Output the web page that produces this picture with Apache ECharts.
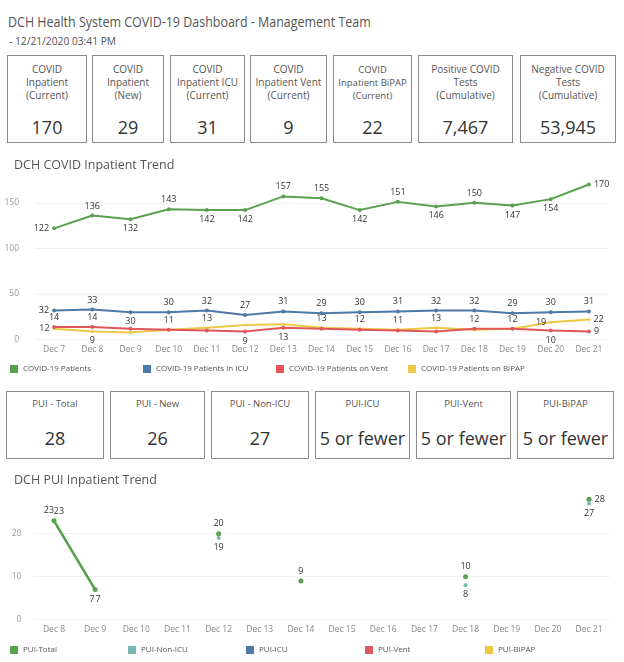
<!DOCTYPE html>
<html>
<head>
<meta charset="utf-8">
<script src="https://cdn.jsdelivr.net/npm/echarts@6/dist/echarts.min.js"></script>
<style>
  html, body { margin:0; padding:0; background:#fff; }
  body { width:624px; height:662px; position:relative; overflow:hidden; font-family:"Open Sans", sans-serif; color:#555; }
  .t { position:absolute; white-space:nowrap; transform-origin:0 50%; }
  .box { position:absolute; border:1px solid #8c8c8c; box-sizing:border-box; background:#fff; }
  .lbl { position:absolute; left:0; right:0; text-align:center; color:#555; }
  .val { position:absolute; left:0; right:0; text-align:center; color:#333; }
  #c1 { position:absolute; left:0; top:150px; width:624px; height:230px; }
  #c2 { position:absolute; left:0; top:460px; width:624px; height:202px; }
</style>
</head>
<body>
<div class="t" id="title" style="left:8px; top:12px; font-size:14.5px; color:#555; transform:scaleX(0.86);">DCH Health System COVID-19 Dashboard - Management Team</div>
<div class="t" id="sub" style="left:9px; top:33px; font-size:11px; color:#555; transform:scaleX(0.93);">- 12/21/2020 03:41 PM</div>
<div id="kpis"></div>
<div id="puis"></div>
<div id="c1"></div>
<div id="c2"></div>
<script>
// ---------- data ----------
const kpiLabels = [
  ["COVID", "Inpatient", "(Current)"],
  ["COVID", "Inpatient", "(New)"],
  ["COVID", "Inpatient ICU", "(Current)"],
  ["COVID", "Inpatient Vent", "(Current)"],
  ["COVID", "Inpatient BiPAP", "(Current)"],
  ["Positive COVID", "Tests", "(Cumulative)"],
  ["Negative COVID", "Tests", "(Cumulative)"]
];
const kpiValues = ["170", "29", "31", "9", "22", "7,467", "53,945"];

const puiLabels = ["PUI - Total", "PUI - New", "PUI - Non-ICU", "PUI-ICU", "PUI-Vent", "PUI-BiPAP"];
const puiValues = ["28", "26", "27", "5 or fewer", "5 or fewer", "5 or fewer"];

const days1 = ["Dec 7","Dec 8","Dec 9","Dec 10","Dec 11","Dec 12","Dec 13","Dec 14","Dec 15","Dec 16","Dec 17","Dec 18","Dec 19","Dec 20","Dec 21"];
const covidPatients = [122,136,132,143,142,142,157,155,142,151,146,150,147,154,170];
const covidICU      = [32,33,30,30,32,27,31,29,30,31,32,32,29,30,31];
const covidVent     = [14,14,12,11,10,9,13,12,11,10,9,12,12,10,9];
const covidBiPAP    = [12,9,8,11,13,16,17,13,12,11,13,11,12,19,22];
const ticks1 = [0, 50, 100, 150];

const days2 = ["Dec 8","Dec 9","Dec 10","Dec 11","Dec 12","Dec 13","Dec 14","Dec 15","Dec 16","Dec 17","Dec 18","Dec 19","Dec 20","Dec 21"];
const puiTotal  = [23,7,null,null,20,null,9,null,null,null,10,null,null,28];
const puiNonICU = [23,7,null,null,19,null,null,null,null,null,8,null,null,27];
const puiICU    = [];
const puiVent   = [];
const puiBiPAP  = [];
const ticks2 = [0, 10, 20];

// ---------- layout (style only) ----------
const kpiX = [[7,87],[92,164],[170,245],[250,327],[333,412],[418,513],[520,616]];
const puiX = [[6,104],[110,205],[211,309],[315,410],[416,511],[517,614]];

const kpiWrap = document.getElementById('kpis');
kpiLabels.forEach((lines, i) => {
  const b = document.createElement('div');
  b.className = 'box';
  b.style.left = kpiX[i][0] + 'px'; b.style.width = (kpiX[i][1] - kpiX[i][0]) + 'px';
  b.style.top = '55px'; b.style.height = '88px';
  const l = document.createElement('div');
  l.className = 'lbl';
  l.style.top = '7px'; l.style.fontSize = (i === 4 ? '9.5px' : '10px'); l.style.lineHeight = '13px';
  l.innerHTML = lines.join('<br>');
  const v = document.createElement('div');
  v.className = 'val';
  v.style.top = '58px'; v.style.fontSize = '18px'; v.style.lineHeight = '26px';
  v.textContent = kpiValues[i];
  b.appendChild(l); b.appendChild(v); kpiWrap.appendChild(b);
});
const puiWrap = document.getElementById('puis');
puiLabels.forEach((t, i) => {
  const b = document.createElement('div');
  b.className = 'box';
  b.style.left = puiX[i][0] + 'px'; b.style.width = (puiX[i][1] - puiX[i][0]) + 'px';
  b.style.top = '391px'; b.style.height = '68px';
  const l = document.createElement('div');
  l.className = 'lbl';
  l.style.top = '5px'; l.style.fontSize = '9.5px'; l.style.lineHeight = '14px';
  l.textContent = t;
  const v = document.createElement('div');
  v.className = 'val';
  v.style.top = '33px'; v.style.fontSize = '18px'; v.style.lineHeight = '26px';
  v.textContent = puiValues[i];
  b.appendChild(l); b.appendChild(v); puiWrap.appendChild(b);
});

// ---------- charts ----------
const FONT = '"Open Sans", sans-serif';
const C = { green:'#59a14f', blue:'#4e79a7', red:'#e15759', yellow:'#edc948', teal:'#76b7b2' };

function withLabels(values, pos, offsets) {
  return values.map((v, i) => {
    if (v === null || v === undefined) return null;
    const p = pos[i];
    const item = { value: v };
    item.label = p ? { show: true, position: p, offset: (offsets && offsets[i]) || [0, 0] } : { show: false };
    return item;
  });
}
const lblStyle = { fontSize: 9, color: '#333', fontFamily: FONT, distance: 3 };

function legendItem(name, left, top) {
  return { data: [name], left: left, top: top, itemWidth: 8, itemHeight: 8, icon: 'rect',
           padding: 0, textStyle: { fontSize: 8, color: '#555', fontFamily: FONT } };
}

const greenPos  = ['left','top','bottom','top','bottom','bottom','top','top','bottom','top','bottom','top','bottom','bottom','right'];
const bluePos   = ['left','top','bottom','top','top','top','top','top','top','top','top','top','top','top','top'];
const redPos    = ['top','top',null,'top',null,'bottom','bottom',null,null,null,null,'top',null,'bottom','right'];
const yellowPos = ['left','bottom',null,null,'top',null,null,'top','top','top','top',null,'top','left','right'];

const chart1 = echarts.init(document.getElementById('c1'), null, { renderer: 'canvas' });
function lineSeries(name, values, color, pos, width, symSize, z) {
  return {
    name: name, type: 'line', data: withLabels(values, pos), color: color,
    lineStyle: { width: width, color: color }, itemStyle: { color: color },
    symbol: 'circle', symbolSize: symSize, showSymbol: true, z: z,
    label: Object.assign({}, lblStyle), emphasis: { disabled: true }, animation: false
  };
}
chart1.setOption({
  animation: false,
  textStyle: { fontFamily: FONT },
  title: { text: 'DCH COVID Inpatient Trend', left: 9, top: 4,
           textStyle: { fontSize: 12.5, fontWeight: 'normal', color: '#555', fontFamily: FONT } },
  legend: [
    legendItem('COVID-19 Patients', 10, 215),
    legendItem('COVID-19 Patients in ICU', 143, 215),
    legendItem('COVID-19 Patients on Vent', 276, 215),
    legendItem('COVID-19 Patients on BiPAP', 408, 215)
  ],
  grid: { left: 35, right: 16, top: 25.4, bottom: 40.3 },
  xAxis: {
    type: 'category', data: days1, boundaryGap: true,
    axisLine: { show: false }, axisTick: { show: false },
    axisLabel: { fontSize: 8.5, color: '#888', margin: 5, interval: 0, fontFamily: FONT }
  },
  yAxis: {
    type: 'value', min: 0, max: 180, interval: 50,
    axisLine: { show: false }, axisTick: { show: false },
    axisLabel: { fontSize: 8.5, color: '#999', margin: 16, showMaxLabel: false, fontFamily: FONT,
                 formatter: v => ticks1.includes(v) ? String(v) : '' },
    splitLine: { lineStyle: { color: '#f0f0f0', width: 1 }, showMaxLine: false }
  },
  series: [
    lineSeries('COVID-19 Patients on BiPAP', covidBiPAP, C.yellow, yellowPos, 2, 3, 2),
    lineSeries('COVID-19 Patients on Vent', covidVent, C.red, redPos, 2, 4, 3),
    lineSeries('COVID-19 Patients in ICU', covidICU, C.blue, bluePos, 2, 4, 4),
    lineSeries('COVID-19 Patients', covidPatients, C.green, greenPos, 2, 4, 5)
  ]
});

const totalPos  = ['top','bottom',null,null,'top',null,'top',null,null,null,'top',null,null,'right'];
const totalOff  = [[-5,0],[-3,0],null,null,null,null,null,null,null,null,null,null,null,null];
const nonIcuPos = ['top','bottom',null,null,'bottom',null,null,null,null,null,'bottom',null,null,'bottom'];
const nonIcuOff = [[5,0],[3,0],null,null,null,null,null,null,null,null,null,null,null,null];

function puiSeries(name, values, color, pos, off, width, symSize, z) {
  return {
    name: name, type: 'line', data: withLabels(values, pos || [], off), color: color,
    connectNulls: false,
    lineStyle: { width: width, color: color }, itemStyle: { color: color },
    symbol: 'circle', symbolSize: symSize, showSymbol: true, z: z,
    label: Object.assign({}, lblStyle), emphasis: { disabled: true }, animation: false
  };
}

const chart2 = echarts.init(document.getElementById('c2'), null, { renderer: 'canvas' });
chart2.setOption({
  animation: false,
  textStyle: { fontFamily: FONT },
  title: { text: 'DCH PUI Inpatient Trend', left: 9, top: 9,
           textStyle: { fontSize: 12.5, fontWeight: 'normal', color: '#555', fontFamily: FONT } },
  legend: [
    legendItem('PUI-Total', 10, 186),
    legendItem('PUI-Non-ICU', 128, 186),
    legendItem('PUI-ICU', 246, 186),
    legendItem('PUI-Vent', 365, 186),
    legendItem('PUI-BiPAP', 485, 186)
  ],
  grid: { left: 33.4, right: 14.4, top: 30.7, bottom: 42.3 },
  xAxis: {
    type: 'category', data: days2, boundaryGap: true,
    axisLine: { show: false }, axisTick: { show: false },
    axisLabel: { fontSize: 8.5, color: '#888', margin: 5, interval: 0, fontFamily: FONT }
  },
  yAxis: {
    type: 'value', min: 0, max: 30, interval: 10,
    axisLine: { show: false }, axisTick: { show: false },
    axisLabel: { fontSize: 8.5, color: '#999', margin: 12, showMaxLabel: false, fontFamily: FONT,
                 formatter: v => ticks2.includes(v) ? String(v) : '' },
    splitLine: { lineStyle: { color: '#f0f0f0', width: 1 }, showMaxLine: false }
  },
  series: [
    puiSeries('PUI-Non-ICU', puiNonICU, C.teal, nonIcuPos, nonIcuOff, 2, 4, 3),
    puiSeries('PUI-ICU', puiICU, C.blue, null, null, 2, 4, 2),
    puiSeries('PUI-Vent', puiVent, C.red, null, null, 2, 4, 2),
    puiSeries('PUI-BiPAP', puiBiPAP, C.yellow, null, null, 2, 4, 2),
    puiSeries('PUI-Total', puiTotal, C.green, totalPos, totalOff, 2.5, 5, 5)
  ]
});
</script>
</body>
</html>
